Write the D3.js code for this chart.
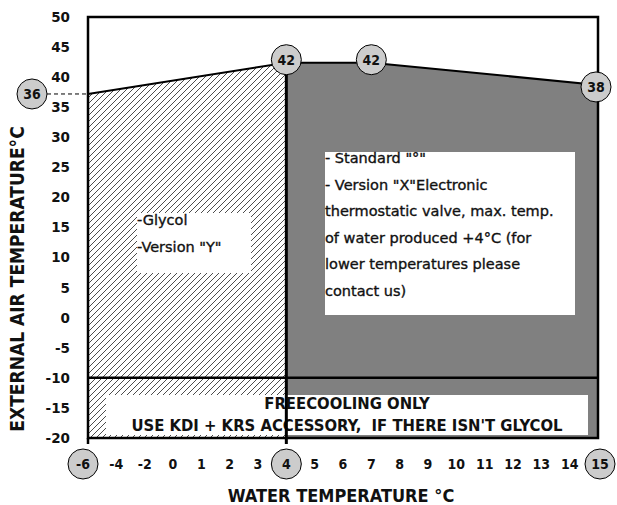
<!DOCTYPE html>
<html lang="en">
<head>
<meta charset="utf-8">
<script src="https://d3js.org/d3.v7.min.js"></script>
<style>
  body { margin: 0; background: #fff; }
  text { font-family: "DejaVu Sans", sans-serif; font-weight: 700; fill: #111; white-space: pre; }
  .cond { font-family: "DejaVu Sans Condensed", "DejaVu Sans", sans-serif; font-stretch: condensed; }
  .note { font-weight: 400; stroke: #111; stroke-width: 0.35px; }
</style>
</head>
<body>
<svg width="617" height="505"></svg>
<script>
// water temperature positions along the x axis (°C)
var xTicks = [-6, -4, -2, 0, 1, 2, 3, 4, 5, 6, 7, 8, 9, 10, 11, 12, 13, 14, 15];
var xCircled = [-6, 4, 15];
// external air temperature ticks (°C)
var yTicks = [50, 45, 40, 35, 30, 25, 20, 15, 10, 5, 0, -5, -10, -15, -20];

// limit curve as drawn: water temp / air temp, plus the circled labels
var limitX = [-6, 4, 7, 15];
var limitY = [37.2, 42.4, 42.4, 38.7];
var limitLabels = ["36", "42", "42", "38"];

var glycolLines = ["-Glycol", "-Version \"Y\""];
var standardLines = ["- Standard \"°\"", "- Version \"X\"Electronic", "thermostatic valve, max. temp.",
                     "of water produced +4°C (for", "lower temperatures please", "contact us)"];
var freeLines = ["FREECOOLING ONLY", "USE KDI + KRS ACCESSORY,  IF THERE ISN'T GLYCOL"];

var svg = d3.select("svg");

var x = d3.scalePoint().domain(xTicks).range([88, 598]);
var y = d3.scaleLinear().domain([-20, 50]).range([438, 17]);

var defs = svg.append("defs");
defs.append("pattern")
    .attr("id", "hatch")
    .attr("patternUnits", "userSpaceOnUse")
    .attr("width", 6).attr("height", 6)
  .append("path")
    .attr("d", "M-1,1 l2,-2 M0,6 l6,-6 M5,7 l2,-2")
    .attr("stroke", "#000")
    .attr("stroke-width", 0.7);

var pts = limitX.map(function(d, i) { return [d, limitY[i]]; });

// glycol zone (hatched), -6..4
var area = d3.area()
    .x(function(d) { return x(d[0]); })
    .y0(y(-20))
    .y1(function(d) { return y(d[1]); });

svg.append("path")
   .datum(pts.slice(0, 2))
   .attr("d", area)
   .attr("fill", "url(#hatch)");

// standard zone (grey), 4..15
svg.append("path")
   .datum(pts.slice(1))
   .attr("d", area)
   .attr("fill", "#808080");

// boxes with text
function textBox(x0, y0, x1, y1, lines, tx, ty, dy, size, anchor, cls) {
  svg.append("rect")
     .attr("x", x0).attr("y", y0)
     .attr("width", x1 - x0).attr("height", y1 - y0)
     .attr("fill", "#fff");
  svg.append("g").selectAll("text")
     .data(lines)
     .enter().append("text")
     .attr("class", cls)
     .attr("x", tx)
     .attr("y", function(d, i) { return ty + i * dy; })
     .attr("font-size", size)
     .attr("text-anchor", anchor)
     .text(function(d) { return d; });
}

textBox(137, 213, 251, 273, glycolLines, 137, 225, 26.5, "14.5px", "start", "note");
textBox(325, 152, 575, 315, standardLines, 325, 163, 26.6, "14.5px", "start", "note");
textBox(106, 395, 588, 435, freeLines, 347, 409, 22, "16.5px", "middle", "cond");

// frame
svg.append("rect")
   .attr("x", x(-6)).attr("y", y(50))
   .attr("width", x(15) - x(-6))
   .attr("height", y(-20) - y(50))
   .attr("fill", "none")
   .attr("stroke", "#000")
   .attr("stroke-width", 2.5);

// -10 line and 4°C divider
svg.append("line")
   .attr("x1", x(-6)).attr("x2", x(15))
   .attr("y1", y(-10)).attr("y2", y(-10))
   .attr("stroke", "#000").attr("stroke-width", 2.5);

svg.append("line")
   .attr("x1", x(4)).attr("x2", x(4))
   .attr("y1", y(limitY[1])).attr("y2", y(-20) + 6)
   .attr("stroke", "#000").attr("stroke-width", 3);

svg.append("line")
   .attr("x1", x(-6)).attr("x2", x(-6))
   .attr("y1", y(-20)).attr("y2", y(-20) + 6)
   .attr("stroke", "#000").attr("stroke-width", 2.5);

// limit curve
svg.append("path")
   .datum(pts)
   .attr("d", d3.line().x(function(d) { return x(d[0]); }).y(function(d) { return y(d[1]); }))
   .attr("fill", "none")
   .attr("stroke", "#000")
   .attr("stroke-width", 2);

// dashed guide to the 36 label
svg.append("line")
   .attr("x1", x(-6) - 41).attr("x2", x(-6))
   .attr("y1", y(limitY[0])).attr("y2", y(limitY[0]))
   .attr("stroke", "#000").attr("stroke-width", 1)
   .attr("stroke-dasharray", "4,3");

function circleLabel(cx, cy, label) {
  svg.append("circle")
     .attr("cx", cx).attr("cy", cy).attr("r", 15)
     .attr("fill", "#cccccc")
     .attr("stroke", "#000").attr("stroke-width", 1);
  svg.append("text")
     .attr("class", "cond")
     .attr("x", cx).attr("y", cy)
     .attr("dy", "0.36em")
     .attr("text-anchor", "middle")
     .attr("font-size", "14px")
     .text(label);
}

var labelDx = [-56, 0, 0, -2];
var labelDy = [0, -3, -3, 2];
limitX.forEach(function(d, i) {
  circleLabel(x(d) + labelDx[i], y(limitY[i]) + labelDy[i], limitLabels[i]);
});

// y tick labels
svg.append("g").selectAll("text")
   .data(yTicks)
   .enter().append("text")
   .attr("x", 70)
   .attr("y", function(d) { return y(d); })
   .attr("dy", "0.36em")
   .attr("text-anchor", "end")
   .attr("font-size", "13.5px")
   .text(function(d) { return d; });

// x tick labels
xTicks.forEach(function(d) {
  if (xCircled.indexOf(d) >= 0) {
    circleLabel(x(d) + (d === -6 ? -5 : d === 15 ? 2 : 0), y(-20) + 26, d);
  } else {
    svg.append("text")
       .attr("class", "cond")
       .attr("x", x(d))
       .attr("y", y(-20) + 26)
       .attr("dy", "0.36em")
       .attr("text-anchor", "middle")
       .attr("font-size", "14px")
       .text(d);
  }
});

// axis titles
svg.append("text")
   .attr("class", "cond")
   .attr("transform", "translate(17,279) rotate(-90)")
   .attr("dy", "0.36em")
   .attr("text-anchor", "middle")
   .attr("font-size", "19px")
   .text("EXTERNAL AIR TEMPERATURE°C");

svg.append("text")
   .attr("class", "cond")
   .attr("x", 341)
   .attr("y", 502)
   .attr("text-anchor", "middle")
   .attr("font-size", "18px")
   .text("WATER TEMPERATURE °C");
</script>
</body>
</html>
